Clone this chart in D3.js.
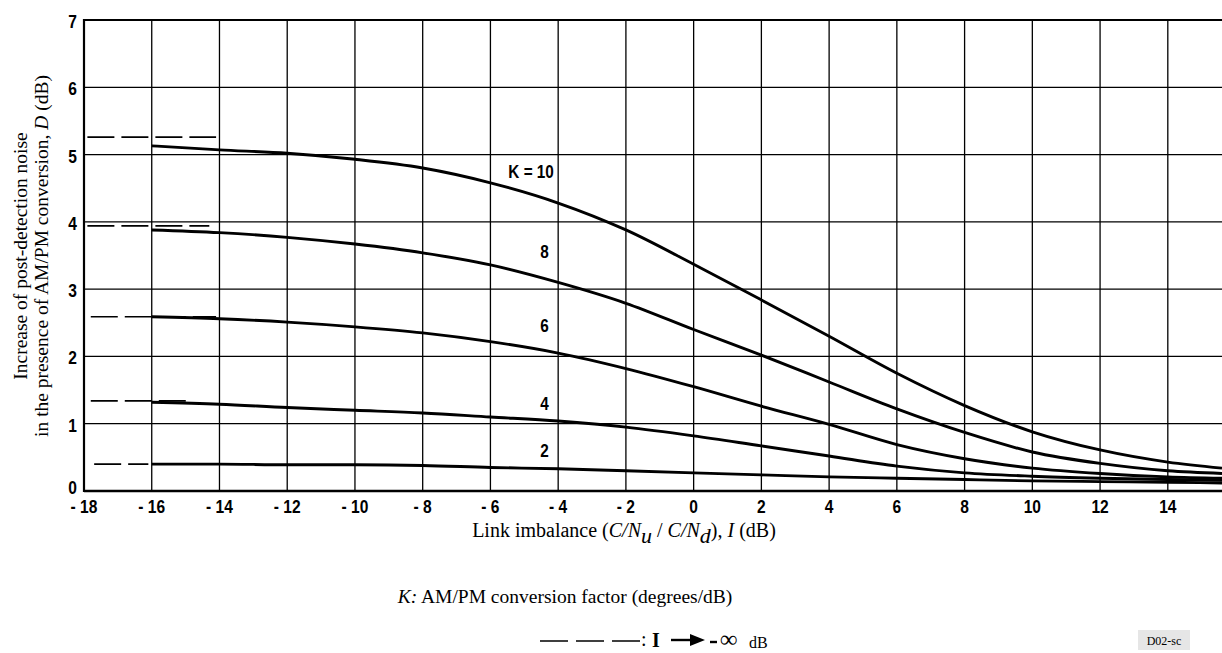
<!DOCTYPE html>
<html>
<head>
    <meta charset="utf-8">
    <title>AM/PM conversion noise</title>
    <script src="https://cdn.jsdelivr.net/npm/d3@7"></script>
    <style>
        body { margin: 0; background: #fff; }
    </style>
</head>
<body>
<svg width="1222" height="653"></svg>
<script>
    // link imbalance I (dB) sample points
    var xs = [-16, -14, -12, -10, -8, -6, -4, -2, 0, 2, 4, 6, 8, 10, 12, 14, 15.6];
    var k10 = [5.13, 5.07, 5.02, 4.93, 4.80, 4.58, 4.28, 3.88, 3.37, 2.84, 2.30, 1.75, 1.27, 0.88, 0.61, 0.43, 0.34];
    var k8 = [3.88, 3.84, 3.77, 3.67, 3.54, 3.36, 3.10, 2.79, 2.40, 2.02, 1.62, 1.22, 0.87, 0.58, 0.41, 0.30, 0.26];
    var k6 = [2.59, 2.56, 2.51, 2.44, 2.35, 2.22, 2.05, 1.82, 1.55, 1.26, 0.99, 0.69, 0.48, 0.34, 0.26, 0.21, 0.19];
    var k4 = [1.32, 1.29, 1.24, 1.20, 1.16, 1.10, 1.04, 0.95, 0.82, 0.67, 0.52, 0.37, 0.27, 0.22, 0.19, 0.17, 0.16];
    var k2 = [0.40, 0.40, 0.39, 0.39, 0.38, 0.35, 0.33, 0.30, 0.27, 0.24, 0.21, 0.19, 0.17, 0.15, 0.14, 0.13, 0.12];
    // asymptotes for I -> -inf : [value, x start, x end]
    var asym = [[5.26, -17.9, -14.1], [3.94, -17.9, -14.3], [2.59, -17.8, -14.1], [1.34, -17.8, -14.8], [0.40, -17.7, -16.1]];
    var curveLabels = ["K = 10", "8", "6", "4", "2"];
    var labelPos = [[-4.8, 4.65], [-4.4, 3.46], [-4.4, 2.37], [-4.4, 1.21], [-4.4, 0.51]];
    var xTicks = d3.range(-18, 15, 2);
    var yTicks = d3.range(0, 8, 1);

    var svg = d3.select("svg");
    var x = d3.scaleLinear().domain([-18, 15.6]).range([84, 1222]);
    var y = d3.scaleLinear().domain([0, 7]).range([491, 20]);
    var tickFont = "'Liberation Sans', Arial, sans-serif";
    var serif = "'Liberation Serif', 'Times New Roman', serif";

    // grid
    var g = svg.append("g");
    g.selectAll(".vx").data(xTicks.slice(1)).enter().append("line")
        .attr("x1", d => x(d)).attr("x2", d => x(d))
        .attr("y1", y(7)).attr("y2", y(0))
        .attr("stroke", "#000").attr("stroke-width", 1.3);
    g.selectAll(".hy").data(yTicks.slice(1, 7)).enter().append("line")
        .attr("x1", x(-18)).attr("x2", 1222)
        .attr("y1", d => y(d)).attr("y2", d => y(d))
        .attr("stroke", "#000").attr("stroke-width", 1.3);
    // frame
    g.append("line").attr("x1", x(-18)).attr("x2", 1222).attr("y1", y(7)).attr("y2", y(7))
        .attr("stroke", "#000").attr("stroke-width", 2.2);
    g.append("line").attr("x1", x(-18)).attr("x2", x(-18)).attr("y1", y(7) - 1).attr("y2", y(0) + 1)
        .attr("stroke", "#000").attr("stroke-width", 2.2);
    g.append("line").attr("x1", x(-18)).attr("x2", 1222).attr("y1", y(0)).attr("y2", y(0))
        .attr("stroke", "#000").attr("stroke-width", 2.6);

    // tick labels (condensed bold look via horizontal squeeze)
    svg.selectAll(".yl").data(yTicks).enter().append("text")
        .attr("transform", d => "translate(77," + (d === 0 ? y(d) + 3 : y(d) + 8) + ") scale(0.82,1)")
        .attr("text-anchor", "end")
        .attr("font-family", tickFont).attr("font-weight", "bold").attr("font-size", 19)
        .text(d => d);
    svg.selectAll(".xl").data(xTicks).enter().append("text")
        .attr("transform", d => "translate(" + x(d) + ",513) scale(0.82,1)")
        .attr("text-anchor", "middle")
        .attr("font-family", tickFont).attr("font-weight", "bold").attr("font-size", 19)
        .text(d => d < 0 ? "- " + (-d) : d);

    // curves
    var series = [k10, k8, k6, k4, k2];
    var line = d3.line().x(d => x(d[0])).y(d => y(d[1])).curve(d3.curveMonotoneX);
    svg.selectAll(".curve").data(series).enter().append("path")
        .attr("d", s => line(xs.map((v, i) => [v, s[i]])))
        .attr("fill", "none").attr("stroke", "#000").attr("stroke-width", 2.9);

    // dashed asymptotes
    svg.selectAll(".asym").data(asym).enter().append("line")
        .attr("x1", d => x(d[1])).attr("x2", d => x(d[2]))
        .attr("y1", d => y(d[0])).attr("y2", d => y(d[0]))
        .attr("stroke", "#000").attr("stroke-width", 1.6)
        .attr("stroke-dasharray", "27,7");

    // curve labels
    svg.selectAll(".cl").data(curveLabels).enter().append("text")
        .attr("transform", (d, i) => "translate(" + x(labelPos[i][0]) + "," + y(labelPos[i][1]) + ") scale(0.85,1)")
        .attr("text-anchor", "middle")
        .attr("font-family", tickFont).attr("font-weight", "bold").attr("font-size", 18)
        .text(d => d);

    // y axis title
    var yt = svg.append("text")
        .attr("transform", "translate(27,256) rotate(-90)")
        .attr("text-anchor", "middle").attr("font-family", serif).attr("font-size", 19.5);
    yt.append("tspan").attr("x", 0).attr("y", 0).text("Increase of post-detection noise");
    yt.append("tspan").attr("x", 0).attr("y", 21).text("in the presence of AM/PM conversion, ");
    yt.append("tspan").attr("font-style", "italic").text("D");
    yt.append("tspan").text(" (dB)");

    // x axis title
    var xt = svg.append("text").attr("x", 624).attr("y", 537)
        .attr("text-anchor", "middle").attr("font-family", serif).attr("font-size", 20);
    xt.append("tspan").text("Link imbalance (");
    xt.append("tspan").attr("font-style", "italic").text("C/N");
    xt.append("tspan").attr("font-style", "italic").attr("dy", 6).attr("font-size", 22).text("u");
    xt.append("tspan").attr("dy", -6).text(" / ");
    xt.append("tspan").attr("font-style", "italic").text("C/N");
    xt.append("tspan").attr("font-style", "italic").attr("dy", 6).attr("font-size", 22).text("d");
    xt.append("tspan").attr("dy", -6).text("), ");
    xt.append("tspan").attr("font-style", "italic").text("I");
    xt.append("tspan").text(" (dB)");

    // K note
    var kt = svg.append("text").attr("x", 565).attr("y", 603)
        .attr("text-anchor", "middle").attr("font-family", serif).attr("font-size", 19.5);
    kt.append("tspan").attr("font-style", "italic").text("K:");
    kt.append("tspan").text(" AM/PM conversion factor (degrees/dB)");

    // dashed legend
    var lg = svg.append("g");
    lg.append("line").attr("x1", 540).attr("x2", 641).attr("y1", 641).attr("y2", 641)
        .attr("stroke", "#000").attr("stroke-width", 1.6).attr("stroke-dasharray", "28,8");
    lg.append("text").attr("x", 641).attr("y", 646).attr("font-family", serif).attr("font-size", 20)
        .text(":");
    lg.append("text").attr("x", 652).attr("y", 647).attr("font-family", serif).attr("font-size", 20)
        .attr("font-weight", "bold").text("I");
    lg.append("line").attr("x1", 671).attr("x2", 695).attr("y1", 640).attr("y2", 640)
        .attr("stroke", "#000").attr("stroke-width", 2.4);
    lg.append("path").attr("d", "M690,634 L705,640 L690,646 Z").attr("fill", "#000");
    lg.append("line").attr("x1", 710).attr("x2", 717).attr("y1", 642).attr("y2", 642)
        .attr("stroke", "#000").attr("stroke-width", 2.4);
    lg.append("text").attr("x", 720).attr("y", 647).attr("font-family", serif).attr("font-size", 24)
        .attr("font-weight", "bold").text("\u221E");
    lg.append("text").attr("x", 749).attr("y", 648).attr("font-family", serif).attr("font-size", 16)
        .text("dB");

    // figure code
    svg.append("rect").attr("x", 1138).attr("y", 630).attr("width", 52).attr("height", 20).attr("fill", "#e6e6e6");
    svg.append("text").attr("x", 1164).attr("y", 645).attr("text-anchor", "middle")
        .attr("font-family", serif).attr("font-size", 12).text("D02-sc");
</script>
</body>
</html>
